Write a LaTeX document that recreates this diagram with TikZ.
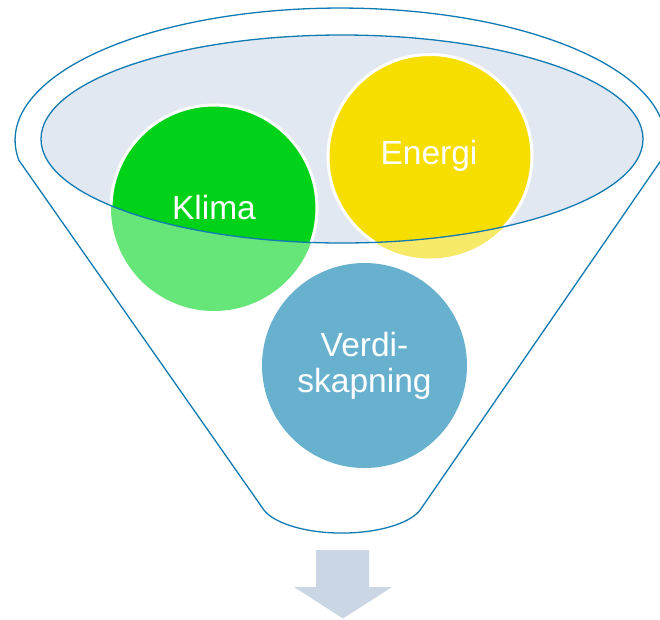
\documentclass[tikz,border=0pt]{standalone}
\usepackage{fontspec}
\setmainfont{Liberation Sans}
\definecolor{funline}{RGB}{16,122,178}
\definecolor{ellfill}{RGB}{225,232,241}
\definecolor{klimadark}{RGB}{0,210,26}
\definecolor{klimalight}{RGB}{102,230,120}
\definecolor{energidark}{RGB}{245,222,0}
\definecolor{energilight}{RGB}{247,233,104}
\definecolor{verdiblue}{RGB}{103,177,207}
\definecolor{arrowfill}{RGB}{202,214,227}
\tikzset{
  funnelline/.style={draw=funline, line width=1.3pt, line join=round},
  ballrim/.style={draw=white, line width=3pt},
  balltext/.style={text=white, font=\fontsize{33.5}{36.5}\selectfont, align=center, inner sep=0pt}
}
\begin{document}
\begin{tikzpicture}[x=1pt,y=1pt]
\useasboundingbox (0,0) rectangle (660,-619);
% funnel outline
\draw[funnelline, fill=white] (18.7,-160) -- (262,-507.3)
  arc[start angle=192.7, end angle=347.3, x radius=82, y radius=33]
  -- (661.3,-160)
  arc[start angle=-8.7, end angle=188.7, x radius=325, y radius=132] -- cycle;
% inner ellipse fill
\fill[ellfill] (342,-139) ellipse[x radius=301, y radius=104];
% circles, light parts
\fill[klimalight] (214,-208) circle[radius=103];
\fill[energilight] (430,-156.5) circle[radius=102];
% circles, dark parts inside ellipse
\begin{scope}
  \clip (342,-139) ellipse[x radius=301, y radius=104];
  \draw[ballrim, fill=klimadark] (214,-208) circle[radius=103];
  \draw[ballrim, fill=energidark] (430,-156.5) circle[radius=102];
\end{scope}
\fill[verdiblue] (364.5,-365.5) circle[radius=102.5];
% inner ellipse outline
\draw[funnelline] (342,-139) ellipse[x radius=301, y radius=104];
% labels
\node[balltext] (klima) at (214,-208) {Klima};
\node[balltext] (energi) at (429,-156) {Energi};
\node[balltext] (verdi) at (364.5,-366) {Verdi-\\skapning};
% arrow
\fill[arrowfill] (316,-550) -- (369,-550) -- (369,-587) -- (392,-587) -- (343,-618.5) -- (294,-587) -- (316,-587) -- cycle;
\end{tikzpicture}
\end{document}
